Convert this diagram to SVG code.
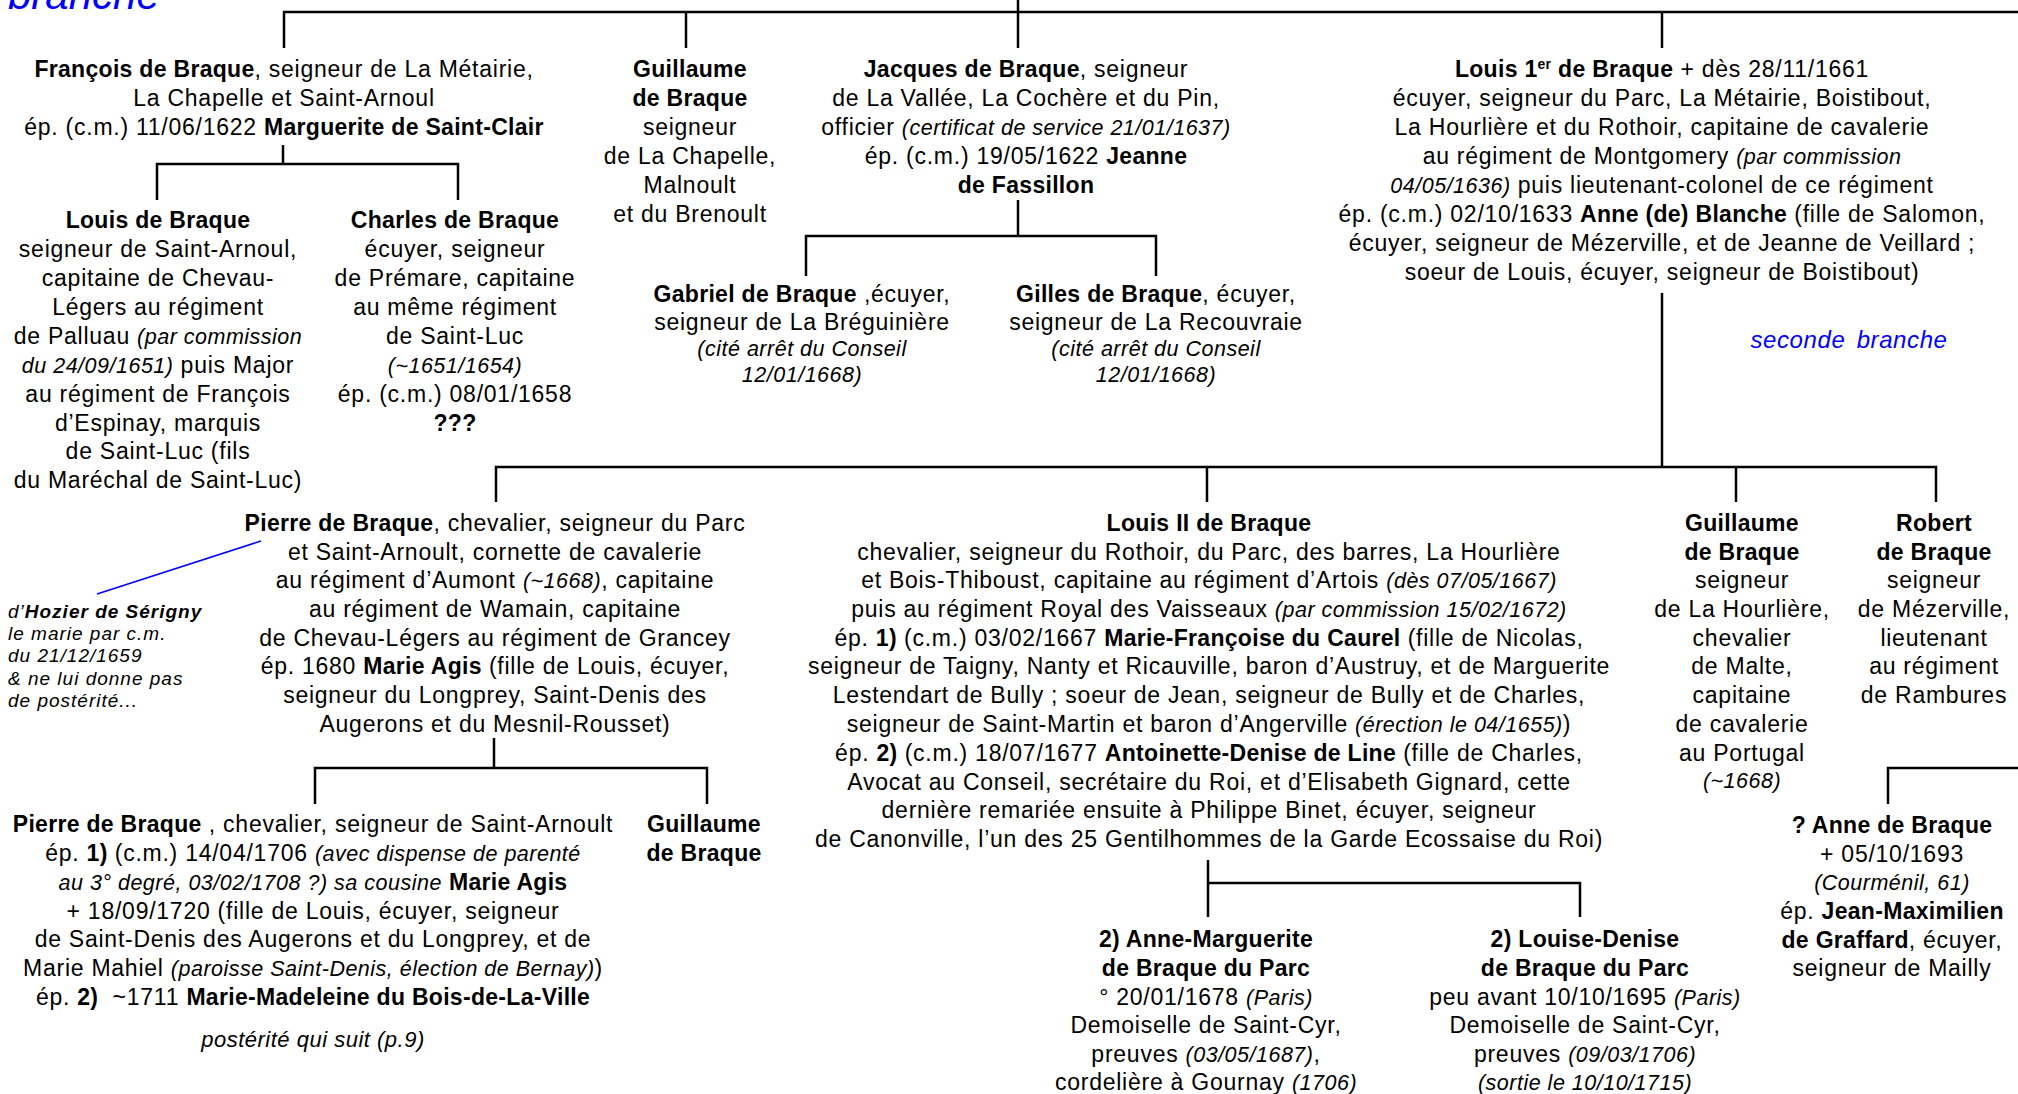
<svg xmlns="http://www.w3.org/2000/svg" width="2018" height="1094" viewBox="0 0 2018 1094">
<style>
text{font-family:"Liberation Sans",Arial,sans-serif;font-size:23px;letter-spacing:0.75px;fill:#000;text-anchor:middle}
.b{font-weight:bold;letter-spacing:0.3px}
.i{font-style:italic;font-size:21.5px;letter-spacing:0.5px}
.n{font-style:italic;font-size:19px;letter-spacing:1px;text-anchor:start}
.blue{fill:#0000ff;font-style:italic}
.c{fill:none;stroke:#000;stroke-width:2.5}
</style>
<rect width="2018" height="1094" fill="#fff"/>
<g id="connectors">
<path class="c" d="M284,48V12H2018M686,12V48M1018,0V48M1662,12V48"/>
<path class="c" d="M283,145V164M157,200V164H458V200"/>
<path class="c" d="M1018,200V236M806,276V236H1156V276"/>
<path class="c" d="M1662,293V467M496,502V467H1936V502M1207,467V502M1736,467V502"/>
<path class="c" d="M494,738V768M315,804V768H707V804"/>
<path class="c" d="M1208,860V917M1208,883H1580V917"/>
<path class="c" d="M1888,804V768H2018"/>
<path d="M261,541L97,594" fill="none" stroke="#0000ff" stroke-width="1.6"/>
</g>
<g id="label-premiere-branche"><text class="blue" x="8" y="9" style="font-size:42px;text-anchor:start;letter-spacing:0">branche</text></g>
<g id="label-seconde-branche"><text class="blue" x="1849" y="348" style="font-size:24px;letter-spacing:0.6px;word-spacing:4px">seconde branche</text></g>
<g id="francois">
<text x="284" y="77"><tspan class="b">François de Braque</tspan>, seigneur de La Métairie,</text>
<text x="284" y="106">La Chapelle et Saint-Arnoul</text>
<text x="284" y="135">ép. (c.m.) 11/06/1622 <tspan class="b">Marguerite de Saint-Clair</tspan></text>
</g>
<g id="guillaume1">
<text x="690" y="77" class="b">Guillaume</text>
<text x="690" y="106" class="b">de Braque</text>
<text x="690" y="135">seigneur</text>
<text x="690" y="164">de La Chapelle,</text>
<text x="690" y="193">Malnoult</text>
<text x="690" y="222">et du Brenoult</text>
</g>
<g id="jacques">
<text x="1026" y="77"><tspan class="b">Jacques de Braque</tspan>, seigneur</text>
<text x="1026" y="106">de La Vallée, La Cochère et du Pin,</text>
<text x="1026" y="135">officier <tspan class="i">(certificat de service 21/01/1637)</tspan></text>
<text x="1026" y="164">ép. (c.m.) 19/05/1622 <tspan class="b">Jeanne</tspan></text>
<text x="1026" y="193" class="b">de Fassillon</text>
</g>
<g id="louis1er">
<text x="1662" y="77"><tspan class="b">Louis 1<tspan style="font-size:14px" dy="-8">er</tspan><tspan dy="8"> de Braque</tspan></tspan> + dès 28/11/1661</text>
<text x="1662" y="106">écuyer, seigneur du Parc, La Métairie, Boistibout,</text>
<text x="1662" y="135">La Hourlière et du Rothoir, capitaine de cavalerie</text>
<text x="1662" y="164">au régiment de Montgomery <tspan class="i">(par commission</tspan></text>
<text x="1662" y="193"><tspan class="i">04/05/1636)</tspan> puis lieutenant-colonel de ce régiment</text>
<text x="1662" y="222">ép. (c.m.) 02/10/1633 <tspan class="b">Anne (de) Blanche</tspan> (fille de Salomon,</text>
<text x="1662" y="251">écuyer, seigneur de Mézerville, et de Jeanne de Veillard ;</text>
<text x="1662" y="280">soeur de Louis, écuyer, seigneur de Boistibout)</text>
</g>
<g id="louis-saint-arnoul">
<text x="158" y="228" class="b">Louis de Braque</text>
<text x="158" y="257">seigneur de Saint-Arnoul,</text>
<text x="158" y="286">capitaine de Chevau-</text>
<text x="158" y="315">Légers au régiment</text>
<text x="158" y="344">de Palluau <tspan class="i">(par commission</tspan></text>
<text x="158" y="373"><tspan class="i">du 24/09/1651)</tspan> puis Major</text>
<text x="158" y="402">au régiment de François</text>
<text x="158" y="431">d’Espinay, marquis</text>
<text x="158" y="459">de Saint-Luc (fils</text>
<text x="158" y="488">du Maréchal de Saint-Luc)</text>
</g>
<g id="charles">
<text x="455" y="228" class="b">Charles de Braque</text>
<text x="455" y="257">écuyer, seigneur</text>
<text x="455" y="286">de Prémare, capitaine</text>
<text x="455" y="315">au même régiment</text>
<text x="455" y="344">de Saint-Luc</text>
<text x="455" y="373" class="i">(~1651/1654)</text>
<text x="455" y="402">ép. (c.m.) 08/01/1658</text>
<text x="455" y="431" class="b">???</text>
</g>
<g id="gabriel">
<text x="802" y="302"><tspan class="b">Gabriel de Braque</tspan> ,écuyer,</text>
<text x="802" y="330">seigneur de La Bréguinière</text>
<text x="802" y="356" class="i">(cité arrêt du Conseil</text>
<text x="802" y="382" class="i">12/01/1668)</text>
</g>
<g id="gilles">
<text x="1156" y="302"><tspan class="b">Gilles de Braque</tspan>, écuyer,</text>
<text x="1156" y="330">seigneur de La Recouvraie</text>
<text x="1156" y="356" class="i">(cité arrêt du Conseil</text>
<text x="1156" y="382" class="i">12/01/1668)</text>
</g>
<g id="hozier-note">
<text class="n" x="8" y="618">d’<tspan font-weight="bold">Hozier de Sérigny</tspan></text>
<text class="n" x="8" y="640">le marie par c.m.</text>
<text class="n" x="8" y="662">du 21/12/1659</text>
<text class="n" x="8" y="685">&amp; ne lui donne pas</text>
<text class="n" x="8" y="707">de postérité...</text>
</g>
<g id="pierre1">
<text x="495" y="531"><tspan class="b">Pierre de Braque</tspan>, chevalier, seigneur du Parc</text>
<text x="495" y="560">et Saint-Arnoult, cornette de cavalerie</text>
<text x="495" y="588">au régiment d’Aumont <tspan class="i">(~1668)</tspan>, capitaine</text>
<text x="495" y="617">au régiment de Wamain, capitaine</text>
<text x="495" y="646">de Chevau-Légers au régiment de Grancey</text>
<text x="495" y="674">ép. 1680 <tspan class="b">Marie Agis</tspan> (fille de Louis, écuyer,</text>
<text x="495" y="703">seigneur du Longprey, Saint-Denis des</text>
<text x="495" y="732">Augerons et du Mesnil-Rousset)</text>
</g>
<g id="louis2">
<text x="1209" y="531" class="b">Louis II de Braque</text>
<text x="1209" y="560">chevalier, seigneur du Rothoir, du Parc, des barres, La Hourlière</text>
<text x="1209" y="588">et Bois-Thiboust, capitaine au régiment d’Artois <tspan class="i">(dès 07/05/1667)</tspan></text>
<text x="1209" y="617">puis au régiment Royal des Vaisseaux <tspan class="i">(par commission 15/02/1672)</tspan></text>
<text x="1209" y="646">ép. <tspan class="b">1)</tspan> (c.m.) 03/02/1667 <tspan class="b">Marie-Françoise du Caurel</tspan> (fille de Nicolas,</text>
<text x="1209" y="674">seigneur de Taigny, Nanty et Ricauville, baron d’Austruy, et de Marguerite</text>
<text x="1209" y="703">Lestendart de Bully ; soeur de Jean, seigneur de Bully et de Charles,</text>
<text x="1209" y="732">seigneur de Saint-Martin et baron d’Angerville <tspan class="i">(érection le 04/1655)</tspan>)</text>
<text x="1209" y="761">ép. <tspan class="b">2)</tspan> (c.m.) 18/07/1677 <tspan class="b">Antoinette-Denise de Line</tspan> (fille de Charles,</text>
<text x="1209" y="790">Avocat au Conseil, secrétaire du Roi, et d’Elisabeth Gignard, cette</text>
<text x="1209" y="818">dernière remariée ensuite à Philippe Binet, écuyer, seigneur</text>
<text x="1209" y="847">de Canonville, l’un des 25 Gentilhommes de la Garde Ecossaise du Roi)</text>
</g>
<g id="guillaume2">
<text x="1742" y="531" class="b">Guillaume</text>
<text x="1742" y="560" class="b">de Braque</text>
<text x="1742" y="588">seigneur</text>
<text x="1742" y="617">de La Hourlière,</text>
<text x="1742" y="646">chevalier</text>
<text x="1742" y="674">de Malte,</text>
<text x="1742" y="703">capitaine</text>
<text x="1742" y="732">de cavalerie</text>
<text x="1742" y="761">au Portugal</text>
<text x="1742" y="788" class="i">(~1668)</text>
</g>
<g id="robert">
<text x="1934" y="531" class="b">Robert</text>
<text x="1934" y="560" class="b">de Braque</text>
<text x="1934" y="588">seigneur</text>
<text x="1934" y="617">de Mézerville,</text>
<text x="1934" y="646">lieutenant</text>
<text x="1934" y="674">au régiment</text>
<text x="1934" y="703">de Rambures</text>
</g>
<g id="pierre2">
<text x="313" y="832"><tspan class="b">Pierre de Braque</tspan> , chevalier, seigneur de Saint-Arnoult</text>
<text x="313" y="861">ép. <tspan class="b">1)</tspan> (c.m.) 14/04/1706 <tspan class="i">(avec dispense de parenté</tspan></text>
<text x="313" y="890"><tspan class="i">au 3° degré, 03/02/1708 ?) sa cousine</tspan> <tspan class="b">Marie Agis</tspan></text>
<text x="313" y="919">+ 18/09/1720 (fille de Louis, écuyer, seigneur</text>
<text x="313" y="947">de Saint-Denis des Augerons et du Longprey, et de</text>
<text x="313" y="976">Marie Mahiel <tspan class="i">(paroisse Saint-Denis, élection de Bernay)</tspan>)</text>
<text x="313" y="1005">ép. <tspan class="b">2)</tspan>&#160; ~1711 <tspan class="b">Marie-Madeleine du Bois-de-La-Ville</tspan></text>
<text x="313" y="1047" class="i" style="font-size:22px">postérité qui suit (p.9)</text>
</g>
<g id="guillaume3">
<text x="704" y="832" class="b">Guillaume</text>
<text x="704" y="861" class="b">de Braque</text>
</g>
<g id="anne-marguerite">
<text x="1206" y="947" class="b">2) Anne-Marguerite</text>
<text x="1206" y="976" class="b">de Braque du Parc</text>
<text x="1206" y="1005">° 20/01/1678 <tspan class="i">(Paris)</tspan></text>
<text x="1206" y="1033">Demoiselle de Saint-Cyr,</text>
<text x="1206" y="1062">preuves <tspan class="i">(03/05/1687)</tspan>,</text>
<text x="1206" y="1090">cordelière à Gournay <tspan class="i">(1706)</tspan></text>
</g>
<g id="louise-denise">
<text x="1585" y="947" class="b">2) Louise-Denise</text>
<text x="1585" y="976" class="b">de Braque du Parc</text>
<text x="1585" y="1005">peu avant 10/10/1695 <tspan class="i">(Paris)</tspan></text>
<text x="1585" y="1033">Demoiselle de Saint-Cyr,</text>
<text x="1585" y="1062">preuves <tspan class="i">(09/03/1706)</tspan></text>
<text x="1585" y="1090" class="i">(sortie le 10/10/1715)</text>
</g>
<g id="anne">
<text x="1892" y="833" class="b">? Anne de Braque</text>
<text x="1892" y="862">+ 05/10/1693</text>
<text x="1892" y="890" class="i">(Courménil, 61)</text>
<text x="1892" y="919">ép. <tspan class="b">Jean-Maximilien</tspan></text>
<text x="1892" y="948"><tspan class="b">de Graffard</tspan>, écuyer,</text>
<text x="1892" y="976">seigneur de Mailly</text>
</g>
</svg>
